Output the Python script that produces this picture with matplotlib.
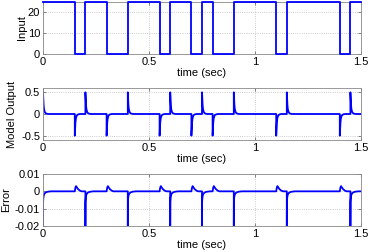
import matplotlib
matplotlib.use("Agg")
import matplotlib.pyplot as plt
import numpy as np

plt.rcParams['font.family'] = ['Liberation Sans', 'DejaVu Sans']
plt.rcParams['axes.unicode_minus'] = False

# Input switching times (sec) and levels held from each time onward
switch_times = [0.0, 0.15, 0.2, 0.3, 0.4, 0.55, 0.6, 0.7, 0.75, 0.8, 0.9, 1.1, 1.15, 1.4, 1.45]
input_levels = [25, 0, 25, 0, 25, 0, 25, 0, 25, 0, 25, 0, 25, 0, 25]
t_end = 1.5

# Model output spike profile after a rising edge (offset sec, value); falling edge is mirrored
model_dt = [0.0, 0.0015, 0.003, 0.005, 0.008, 0.012, 0.018, 0.025]
model_val = [0.5, 0.32, 0.2, 0.11, 0.05, 0.02, 0.006, 0.0]

# Error profile after a rising edge (offset sec, value)
err_rise_dt = [0.0, 0.0005, 0.002, 0.004, 0.007, 0.012, 0.02, 0.03, 0.04]
err_rise_val = [-0.025, -0.006, -0.0035, -0.0022, -0.0013, -0.0007, -0.0003, -0.0001, 0.0]
# Error bump after a falling edge
err_fall_dt = [0.0, 0.003, 0.006, 0.01, 0.016, 0.024, 0.032]
err_fall_val = [0.0, 0.0022, 0.003, 0.0022, 0.0012, 0.0004, 0.0]

blue = (0, 0, 1)


def build_series(dts, vals, rise_sign, fall_dts, fall_vals):
    xs, ys = [], []
    for i, t0 in enumerate(switch_times):
        rising = input_levels[i] > 0
        if fall_dts is None:
            d, v = dts, [rise_sign * x if rising else -rise_sign * x for x in vals]
        else:
            d, v = (dts, vals) if rising else (fall_dts, fall_vals)
        t_next = switch_times[i + 1] if i + 1 < len(switch_times) else t_end
        if t0 > 0:
            xs.append(t0); ys.append(0.0)
        for dd, vv in zip(d, v):
            if t0 + dd <= t_next:
                xs.append(t0 + dd); ys.append(vv)
        xs.append(t_next); ys.append(0.0)
    return xs, ys


fig = plt.figure(figsize=(3.7, 2.52), dpi=100)
W, H = 370, 252
left, right = 43, 361
panels = [(2, 54), (88, 140), (174, 226)]
axes = []
for top, bot in panels:
    ax = fig.add_axes([left / W, 1 - bot / H, (right - left) / W, (bot - top) / H])
    axes.append(ax)

# Panel 1: input
ax = axes[0]
ax.step(switch_times + [t_end], input_levels + [input_levels[-1]], where='post', color=blue,
        lw=1.3, clip_on=False, zorder=3)
ax.set_ylim(0, 25)
ax.set_yticks([0, 10, 20])
ax.set_yticklabels(['0', '10', '20'])
ax.set_ylabel('Input')
ax.yaxis.set_label_coords(-0.05, 0.5)

# Panel 2: model output
ax = axes[1]
mx, my = build_series(model_dt, model_val, 1, None, None)
ax.plot(mx, my, color=blue, lw=1.3)
ax.set_ylim(-0.6, 0.6)
ax.set_yticks([-0.5, 0, 0.5])
ax.set_yticklabels(['-0.5', '0', '0.5'])
ax.set_ylabel('Model Output')
ax.yaxis.set_label_coords(-0.082, 0.5)

# Panel 3: error
ax = axes[2]
ex, ey = build_series(err_rise_dt, err_rise_val, 1, err_fall_dt, err_fall_val)
ax.plot(ex, ey, color=blue, lw=1.3)
ax.set_ylim(-0.02, 0.01)
ax.set_yticks([-0.02, -0.01, 0, 0.01])
ax.set_yticklabels(['-0.02', '-0.01', '0', '0.01'])
ax.set_ylabel('Error')
ax.yaxis.set_label_coords(-0.10, 0.5)

for ax in axes:
    ax.set_xlim(0, 1.5)
    ax.set_xticks([0, 0.5, 1, 1.5])
    ax.set_xticklabels(['0', '0.5', '1', '1.5'])
    ax.set_xlabel('time (sec)', fontsize=8, labelpad=1)
    ax.yaxis.label.set_fontsize(8)
    ax.tick_params(direction='in', length=2.5, width=0.5, labelsize=8, pad=2,
                   color='#555555', top=True, right=True)
    ax.grid(True, linestyle=':', color='#bbbbbb', linewidth=0.6)
    for s in ax.spines.values():
        s.set_color('#888888')
        s.set_linewidth(0.6)

fig.savefig('out.png', dpi=100)
